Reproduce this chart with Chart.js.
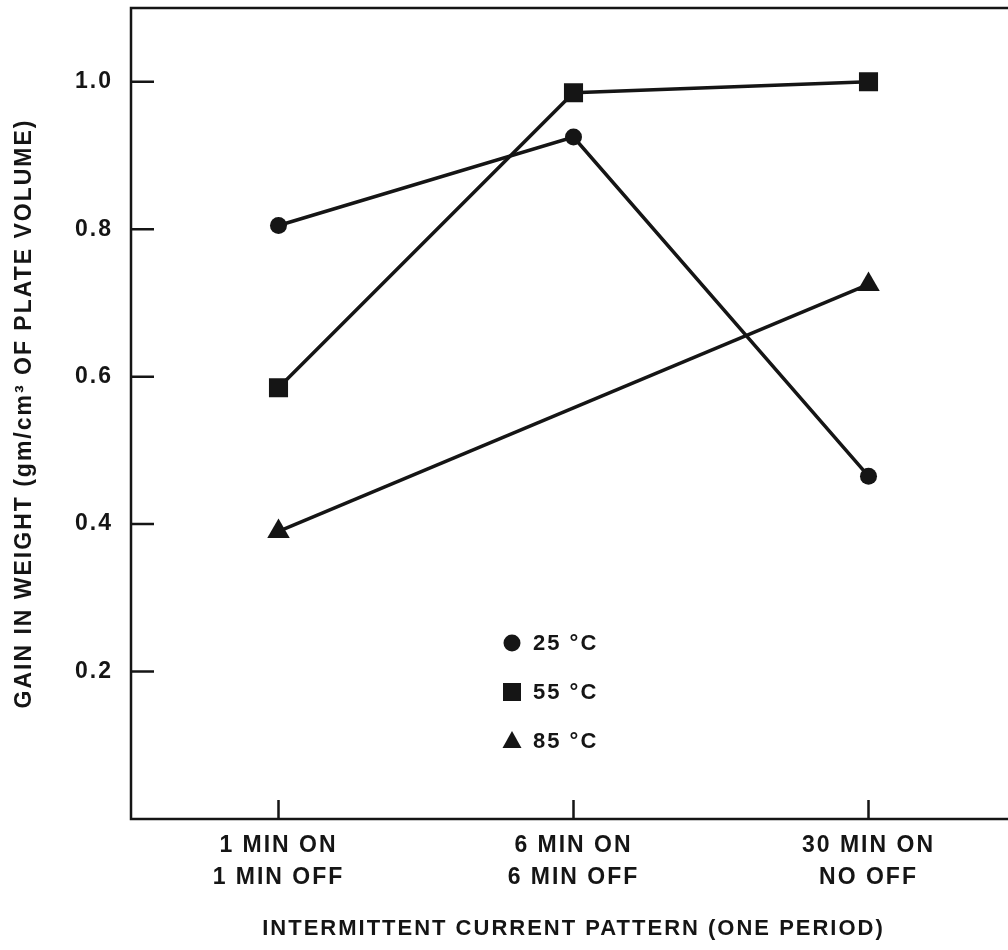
<!DOCTYPE html>
<html>
<head>
<meta charset="utf-8">
<title>Gain in weight vs intermittent current pattern</title>
<script src="https://cdn.jsdelivr.net/npm/chart.js@4.4.0/dist/chart.umd.min.js"></script>
<style>
  html, body { margin: 0; padding: 0; background: #fff; overflow: hidden; }
  #wrap { width: 1030px; height: 950px; }
</style>
</head>
<body>
<div id="wrap"><canvas id="gainChart" width="1030" height="950"></canvas></div>
<script>
// Data
const patterns = [["1 MIN ON", "1 MIN OFF"], ["6 MIN ON", "6 MIN OFF"], ["30 MIN ON", "NO OFF"]];
const gain25 = [0.805, 0.925, 0.465];
const gain55 = [0.585, 0.985, 1.0];
const gain85 = [0.39, null, 0.725];
const seriesLabels = ["25 °C", "55 °C", "85 °C"];
const yTickValues = [0.2, 0.4, 0.6, 0.8, 1.0];
const yTitle = "GAIN IN WEIGHT (gm/cm³ OF PLATE VOLUME)";
const xTitle = "INTERMITTENT CURRENT PATTERN (ONE PERIOD)";

const ink = '#151515';
const family = "'Liberation Sans', Arial, Helvetica, sans-serif";

// wider tracking like the typeset original
const spacingPlugin = {
    id: 'spacing',
    beforeUpdate(chart) { chart.ctx.letterSpacing = '2px'; },
    beforeDraw(chart) { chart.ctx.letterSpacing = '2px'; }
};

// box around the plot + inward tick marks
const framePlugin = {
    id: 'frame',
    beforeDatasetsDraw(chart) {
        const { ctx, chartArea: a, scales } = chart;
        ctx.save();
        ctx.strokeStyle = ink;
        ctx.lineWidth = 2.5;
        ctx.strokeRect(a.left, a.top, a.right - a.left, a.bottom - a.top);
        ctx.beginPath();
        yTickValues.forEach(v => {
            const py = scales.y.getPixelForValue(v);
            ctx.moveTo(a.left, py);
            ctx.lineTo(a.left + 23, py);
        });
        patterns.forEach((p, i) => {
            const px = scales.x.getPixelForValue(i);
            ctx.moveTo(px, a.bottom);
            ctx.lineTo(px, a.bottom - 19);
        });
        ctx.stroke();
        ctx.restore();
    }
};

// legend drawn inside the plot area
const insideLegend = {
    id: 'insideLegend',
    afterDatasetsDraw(chart, args, opts) {
        const ctx = chart.ctx;
        ctx.save();
        ctx.fillStyle = ink;
        ctx.font = 'bold 22px ' + family;
        ctx.textBaseline = 'middle';
        ctx.textAlign = 'left';
        chart.data.datasets.forEach((ds, i) => {
            const cx = opts.x;
            const cy = opts.y + i * opts.gap;
            ctx.beginPath();
            if (ds.pointStyle === 'circle') {
                ctx.arc(cx, cy, 8.5, 0, Math.PI * 2);
            } else if (ds.pointStyle === 'rect') {
                ctx.rect(cx - 9, cy - 9, 18, 18);
            } else {
                ctx.moveTo(cx, cy - 10);
                ctx.lineTo(cx + 9.5, cy + 7);
                ctx.lineTo(cx - 9.5, cy + 7);
                ctx.closePath();
            }
            ctx.fill();
            ctx.fillText(ds.label, cx + 21, cy + 1);
        });
        ctx.restore();
    }
};

function makeSeries(label, values, style, radius) {
    return {
        label: label,
        data: values,
        borderColor: ink,
        backgroundColor: ink,
        borderWidth: 3.5,
        pointStyle: style,
        pointRadius: radius,
        pointBorderWidth: 0,
        pointBackgroundColor: ink,
        spanGaps: true,
        tension: 0
    };
}

function initChart() {
    const ctx = document.getElementById('gainChart').getContext('2d');
    return new Chart(ctx, {
        type: 'line',
        data: {
            labels: patterns,
            datasets: [
                makeSeries(seriesLabels[0], gain25, 'circle', 8.5),
                makeSeries(seriesLabels[1], gain55, 'rect', 13.5),
                makeSeries(seriesLabels[2], gain85, 'triangle', 13)
            ]
        },
        options: {
            responsive: false,
            animation: false,
            events: [],
            layout: { autoPadding: false, padding: { top: 8, right: 14, bottom: 0, left: 0 } },
            plugins: {
                legend: { display: false },
                tooltip: { enabled: false },
                insideLegend: { x: 512, y: 643, gap: 49 }
            },
            scales: {
                x: {
                    type: 'category',
                    offset: true,
                    grid: { display: false, drawTicks: false },
                    border: { display: false },
                    ticks: {
                        color: ink,
                        padding: 11,
                        maxRotation: 0,
                        autoSkip: false,
                        font: { family: family, size: 23, weight: 'bold', lineHeight: 1.39 }
                    },
                    title: {
                        display: true,
                        text: xTitle,
                        color: ink,
                        padding: { top: 0, bottom: 8 },
                        font: { family: family, size: 22, weight: 'bold' }
                    },
                    afterFit(scale) {
                        scale.height = 131;
                        scale.paddingLeft = 0;
                        scale.paddingRight = 0;
                    }
                },
                y: {
                    min: 0,
                    max: 1.1,
                    grid: { display: false, drawTicks: false },
                    border: { display: false },
                    afterBuildTicks(scale) {
                        scale.ticks = yTickValues.map(v => ({ value: v }));
                    },
                    ticks: {
                        color: ink,
                        padding: 18,
                        font: { family: family, size: 23, weight: 'bold' },
                        callback: v => Number(v).toFixed(1)
                    },
                    title: {
                        display: true,
                        text: yTitle,
                        color: ink,
                        padding: { top: 11, bottom: 0 },
                        font: { family: family, size: 23, weight: 'bold' }
                    },
                    afterFit(scale) {
                        scale.width = 131;
                        scale.paddingTop = 0;
                        scale.paddingBottom = 0;
                    }
                }
            }
        },
        plugins: [spacingPlugin, framePlugin, insideLegend]
    });
}

initChart();
</script>
</body>
</html>
